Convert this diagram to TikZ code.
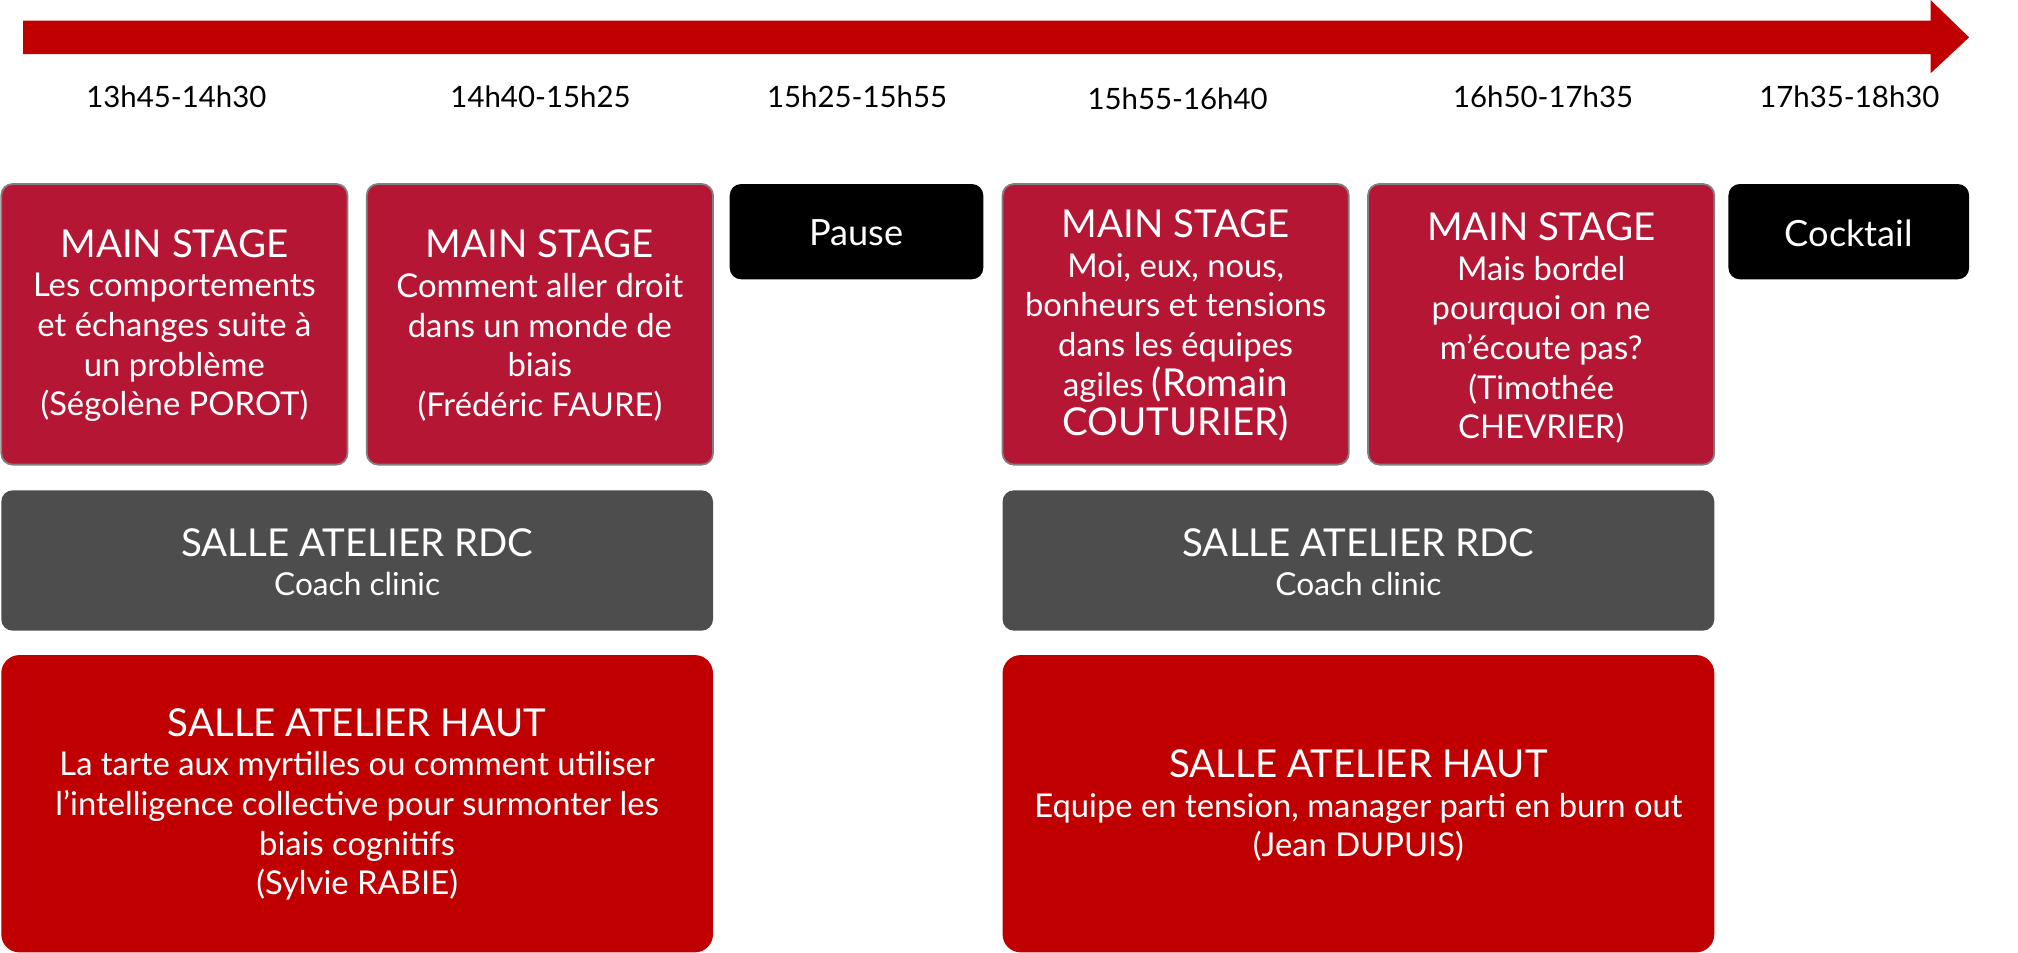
\documentclass[tikz,border=0pt]{standalone}
\usepackage{fontspec}
\setmainfont{Lato}
\definecolor{stagered}{HTML}{B51634}
\definecolor{hautred}{HTML}{C00000}
\definecolor{rdcgray}{HTML}{4D4D4D}
\tikzset{
  slot/.style={rounded corners=5pt, align=center, text=white, inner sep=0pt},
  stage/.style={slot, fill=stagered, draw=gray, line width=0.8pt, font=\fontsize{14.5}{17.5}\selectfont},
  pause/.style={slot, fill=black, font=\fontsize{16}{19}\selectfont},
  rdc/.style={slot, fill=rdcgray, font=\fontsize{14}{17}\selectfont},
  haut/.style={slot, fill=hautred, rounded corners=8pt, font=\fontsize{14.5}{17.5}\selectfont},
  big/.style={font=\fontsize{17}{20}\selectfont},
  time/.style={font=\fontsize{13}{15}\selectfont}
}
\newcommand{\bigline}[1]{{\fontsize{17}{20}\selectfont #1}}
\begin{document}
\begin{tikzpicture}[x=0.02cm, y=-0.02cm]
  \useasboundingbox (0,0) rectangle (1568,740);
  % timeline
  \fill[hautred] (18,16) -- (1500,16) -- (1500,0) -- (1530,29) -- (1500,57) -- (1500,42) -- (18,42) -- cycle;
  \node[time] (t1) at (137,75) {13h45-14h30};
  \node[time] (t2) at (420,75) {14h40-15h25};
  \node[time] (t3) at (666,75) {15h25-15h55};
  \node[time] (t4) at (915,77) {15h55-16h40};
  \node[time] (t5) at (1199,75) {16h50-17h35};
  \node[time] (t6) at (1437,75) {17h35-18h30};
  % main stage
  \draw[stage] (1,143) rectangle (270,361);
  \node[stage, draw=none, fill=none] (s1) at (135.5,253) {\bigline{MAIN STAGE}\\Les comportements\\et échanges suite à\\un problème\\(Ségolène POROT)};
  \draw[stage] (285,143) rectangle (554,361);
  \node[stage, draw=none, fill=none] (s2) at (419.5,253) {\bigline{MAIN STAGE}\\Comment aller droit\\dans un monde de\\biais\\(Frédéric FAURE)};
  \draw[stage] (779,143) rectangle (1048,361);
  \node[stage, draw=none, fill=none] (s3) at (913.5,253) {\bigline{MAIN STAGE}\\Moi, eux, nous,\\bonheurs et tensions\\dans les équipes\\agiles \bigline{(Romain}\\\bigline{COUTURIER)}};
  \draw[stage] (1063,143) rectangle (1332,361);
  \node[stage, draw=none, fill=none] (s4) at (1197.5,255) {\bigline{MAIN STAGE}\\Mais bordel\\pourquoi on ne\\m’écoute pas?\\(Timothée\\CHEVRIER)};
  % pauses
  \fill[pause] (567,143) rectangle (764,217);
  \node[pause, fill=none] (p1) at (665.5,181) {Pause};
  \fill[pause] (1343,143) rectangle (1530,217);
  \node[pause, fill=none] (p2) at (1436.5,181) {Cocktail};
  % salle atelier rdc
  \fill[rdc] (1,381) rectangle (554,490);
  \node[rdc, fill=none] (r1) at (277.5,437) {\bigline{SALLE ATELIER RDC}\\Coach clinic};
  \fill[rdc] (779,381) rectangle (1332,490);
  \node[rdc, fill=none] (r2) at (1055.5,437) {\bigline{SALLE ATELIER RDC}\\Coach clinic};
  % salle atelier haut
  \fill[haut] (1,509) rectangle (554,740);
  \node[haut, fill=none] (h1) at (277.5,625) {\bigline{SALLE ATELIER HAUT}\\La tarte aux myrtilles ou comment utiliser\\l'intelligence collective pour surmonter les\\biais cognitifs\\(Sylvie RABIE)};
  \fill[haut] (779,509) rectangle (1332,740);
  \node[haut, fill=none] (h2) at (1055.5,626) {\bigline{SALLE ATELIER HAUT}\\Equipe en tension, manager parti en burn out\\(Jean DUPUIS)};
\end{tikzpicture}
\end{document}
